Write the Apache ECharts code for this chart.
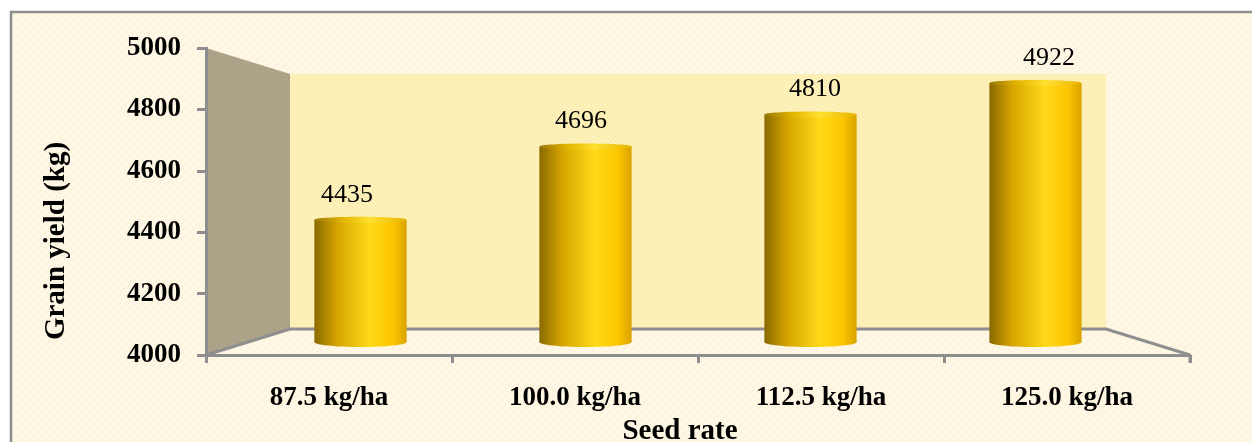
<!DOCTYPE html>
<html>
<head>
<meta charset="utf-8">
<script src="https://cdn.jsdelivr.net/npm/echarts@6/dist/echarts.min.js"></script>
<style>
  html, body { margin: 0; padding: 0; background: #ffffff; }
  #chart { width: 1252px; height: 442px; }
</style>
</head>
<body>
<div id="chart"></div>
<script>
// Grain yield by seed rate
const categories = ['87.5 kg/ha', '100.0 kg/ha', '112.5 kg/ha', '125.0 kg/ha'];
const grainYield = [4435, 4696, 4810, 4922];
const yMin = 4000;
const yMax = 5000;
const yStep = 200;
const xTitle = 'Seed rate';
const yTitle = 'Grain yield (kg)';

const FONT = '"Liberation Serif", "Times New Roman", serif';
const AXIS_GRAY = '#8e8e8e';

// Front face of the 3D box; the rear wall is shrunk toward the centre by DEPTH
const FRONT = { left: 206, top: 48, width: 984, height: 307 };
const DEPTH = { dx: 84, dy: 26 };
function plane(f) {
  return {
    left: FRONT.left + DEPTH.dx * f,
    top: FRONT.top + DEPTH.dy * f,
    width: FRONT.width - 2 * DEPTH.dx * f,
    height: FRONT.height - 2 * DEPTH.dy * f
  };
}
const front = plane(0), mid = plane(0.5), back = plane(1);

// Small repeating textures for the paper background and the walls
function makePattern(base, ink, alpha, kind) {
  const c = document.createElement('canvas');
  c.width = 8; c.height = 8;
  const g = c.getContext('2d');
  g.fillStyle = base; g.fillRect(0, 0, 8, 8);
  g.fillStyle = ink; g.globalAlpha = alpha;
  for (let y = 0; y < 8; y++) {
    for (let x = 0; x < 8; x++) {
      let on;
      if (kind === 'weave') on = ((x + y) % 8 < 2) || ((x - y + 8) % 8 < 1);
      else if (kind === 'dots') on = (x + y * 3) % 4 === 0;
      else on = (x * 7 + y * 5) % 3 === 0;
      if (on) g.fillRect(x, y, 1, 1);
    }
  }
  return { image: c, repeat: 'repeat' };
}
const paperFill = makePattern('#fcf4dd', '#fffbee', 0.9, 'weave');
const backWallFill = makePattern('#fcedac', '#fff8dc', 0.9, 'dots');
const sideWallFill = makePattern('#a69d83', '#bdb49a', 0.7, 'grain');

const chart = echarts.init(document.getElementById('chart'), null, { renderer: 'canvas' });

function hiddenAxis(type, gridIndex) {
  const a = { type, gridIndex, show: false };
  if (type === 'category') a.data = categories;
  else { a.min = yMin; a.max = yMax; a.interval = yStep; }
  return a;
}

function gridFor(p) {
  return { left: p.left, top: p.top, width: p.width, height: p.height,
           containLabel: false, outerBoundsMode: 'none' };
}

const barGradient = new echarts.graphic.LinearGradient(0, 0, 1, 0, [
  { offset: 0, color: '#8a6a00' },
  { offset: 0.25, color: '#d6a500' },
  { offset: 0.6, color: '#ffd919' },
  { offset: 0.85, color: '#fdc600' },
  { offset: 1, color: '#d9a300' }
]);
const capGradient = new echarts.graphic.LinearGradient(0, 0, 1, 0, [
  { offset: 0, color: '#9a7806' },
  { offset: 0.3, color: '#e3b400' },
  { offset: 0.6, color: '#ffe030' },
  { offset: 1, color: '#e8b400' }
]);

const option = {
  animation: false,
  backgroundColor: '#ffffff',
  grid: [gridFor(front), gridFor(mid), gridFor(back)],
  xAxis: [
    {
      type: 'category', gridIndex: 0, data: categories,
      axisLine: { lineStyle: { color: AXIS_GRAY, width: 3 } },
      axisTick: { show: true, length: 8, lineStyle: { color: AXIS_GRAY, width: 3 } },
      axisLabel: { color: '#000', fontFamily: FONT, fontWeight: 'bold', fontSize: 27, margin: 30 },
      name: xTitle, nameLocation: 'middle', nameGap: 58,
      nameTextStyle: { color: '#000', fontFamily: FONT, fontWeight: 'bold', fontSize: 29, padding: [0, 36, 0, 0] }
    },
    hiddenAxis('category', 1),
    hiddenAxis('category', 2)
  ],
  yAxis: [
    {
      type: 'value', gridIndex: 0, min: yMin, max: yMax, interval: yStep,
      axisLine: { show: true, lineStyle: { color: AXIS_GRAY, width: 3 } },
      axisTick: { show: true, length: 9, lineStyle: { color: AXIS_GRAY, width: 3 } },
      axisLabel: { color: '#000', fontFamily: FONT, fontWeight: 'bold', fontSize: 27, margin: 25,
                   formatter: (v) => String(v) },
      splitLine: { show: false }
    },
    hiddenAxis('value', 1),
    hiddenAxis('value', 2)
  ],
  graphic: [
    // paper with its frame
    { type: 'rect', z: -20, shape: { x: 11, y: 12, width: 1400, height: 600 },
      style: { fill: paperFill, stroke: AXIS_GRAY, lineWidth: 2.5 } },
    // rear wall
    { type: 'rect', z: -19, shape: { x: back.left, y: back.top, width: back.width, height: back.height },
      style: { fill: backWallFill } },
    // left side wall
    { type: 'polygon', z: -19, shape: { points: [
        [front.left, front.top], [back.left, back.top],
        [back.left, back.top + back.height], [front.left, front.top + front.height]] },
      style: { fill: sideWallFill } },
    // floor edges
    { type: 'polyline', z: -18, shape: { points: [
        [front.left, front.top + front.height], [back.left, back.top + back.height],
        [back.left + back.width, back.top + back.height],
        [front.left + front.width, front.top + front.height]] },
      style: { fill: null, stroke: AXIS_GRAY, lineWidth: 3 } },
    // tick closing the floor at the right
    { type: 'line', z: -18, shape: {
        x1: front.left + front.width, y1: front.top + front.height,
        x2: front.left + front.width, y2: front.top + front.height + 8 },
      style: { stroke: AXIS_GRAY, lineWidth: 3 } },
    // vertical axis title
    { type: 'text', z: 10, x: 57, y: 241, rotation: Math.PI / 2,
      style: { text: yTitle, fill: '#000', font: 'bold 29px ' + FONT, align: 'center', verticalAlign: 'middle' } }
  ],
  series: [
    {
      type: 'custom',
      xAxisIndex: 1, yAxisIndex: 1,
      z: 5,
      data: grainYield.map((v, i) => [i, v]),
      renderItem(params, api) {
        const cat = api.value(0);
        const v = api.value(1);
        const topPt = api.coord([cat, v]);
        const basePt = api.coord([cat, yMin]);
        const bw = api.size([1, 0])[0] * 0.41;
        const cx = topPt[0];
        const plotCenter = params.coordSys.x + params.coordSys.width / 2;
        return {
          type: 'group',
          children: [
            { type: 'ellipse', shape: { cx: basePt[0], cy: basePt[1], rx: bw / 2, ry: 5 },
              style: { fill: barGradient } },
            { type: 'rect', shape: { x: cx - bw / 2, y: topPt[1], width: bw, height: basePt[1] - topPt[1] },
              style: { fill: barGradient } },
            { type: 'ellipse', shape: { cx: cx, cy: topPt[1], rx: bw / 2, ry: 3 },
              style: { fill: capGradient } },
            { type: 'text', x: cx + (cx - plotCenter) * 0.04, y: topPt[1] - 25,
              style: { text: String(v), fill: '#000', font: '26px ' + FONT,
                       align: 'center', verticalAlign: 'middle' } }
          ]
        };
      }
    }
  ]
};

chart.setOption(option);
</script>
</body>
</html>
